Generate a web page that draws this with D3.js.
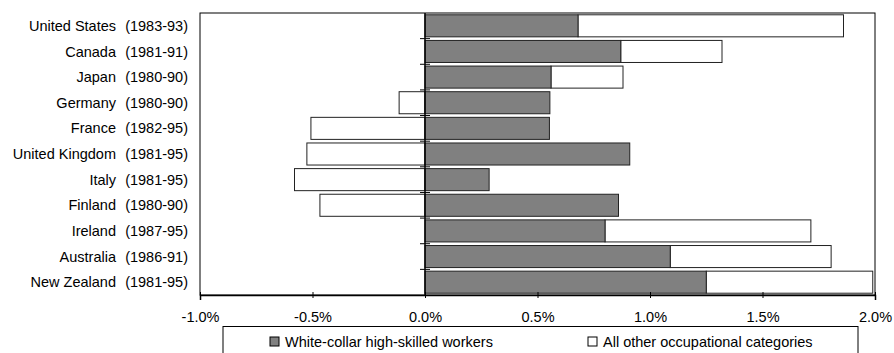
<!DOCTYPE html>
<html>
<head>
<meta charset="utf-8">
<script src="https://cdn.jsdelivr.net/npm/d3@7"></script>
<style>
  body { margin:0; background:#fff; }
  svg { display:block; font-family:"Liberation Sans", Arial, sans-serif; }
</style>
</head>
<body>
<svg></svg>
<script>
var countries = ["United States","Canada","Japan","Germany","France","United Kingdom",
                 "Italy","Finland","Ireland","Australia","New Zealand"];
var periods = ["(1983-93)","(1981-91)","(1980-90)","(1980-90)","(1982-95)","(1981-95)",
               "(1981-95)","(1980-90)","(1987-95)","(1986-91)","(1981-95)"];
var whiteCollar = [0.68,0.87,0.56,0.555,0.553,0.91,0.285,0.86,0.80,1.09,1.25];
var allOther = [1.18,0.45,0.32,-0.115,-0.507,-0.525,-0.58,-0.467,0.915,0.715,0.74];
var xTicks = [-1.0,-0.5,0.0,0.5,1.0,1.5,2.0];
var seriesNames = ["White-collar high-skilled workers","All other occupational categories"];

var screen = {width:894, height:353};
var margins = {top:13, left:200, right:19, bottom:58};
var width = screen.width - margins.left - margins.right;
var height = screen.height - margins.top - margins.bottom;
var fontSize = "14.5px";

var svg = d3.select("svg")
  .attr("width",screen.width)
  .attr("height",screen.height);

var rows = countries.map(function(c,i)
{
  return {country:c, period:periods[i], wc:whiteCollar[i], other:allOther[i]};
});

var xScale = d3.scaleLinear().domain([-1,2]).range([0,width]);
var yScale = d3.scaleBand().domain(countries).range([0,height])
  .paddingInner(0.14).paddingOuter(0.07);

var colors = {wc:"#808080", other:"#ffffff"};

var plot = svg.append("g")
  .attr("transform","translate("+margins.left+","+margins.top+")");

// frame
plot.append("rect")
  .attr("x",0).attr("y",0)
  .attr("width",width).attr("height",height)
  .attr("fill","none").attr("stroke","#000").attr("stroke-width",1);

// other bars: stacked after white collar when positive, from zero when negative
plot.selectAll(".other")
  .data(rows)
  .enter()
  .append("rect")
  .attr("class","other")
  .attr("x",function(d){ return d.other>=0 ? xScale(d.wc) : xScale(d.other); })
  .attr("y",function(d){ return yScale(d.country); })
  .attr("width",function(d){ return Math.abs(xScale(d.other)-xScale(0)); })
  .attr("height",yScale.bandwidth())
  .attr("fill",colors.other)
  .attr("stroke","#222")
  .attr("stroke-width",1);

plot.selectAll(".wc")
  .data(rows)
  .enter()
  .append("rect")
  .attr("class","wc")
  .attr("x",xScale(0))
  .attr("y",function(d){ return yScale(d.country); })
  .attr("width",function(d){ return xScale(d.wc)-xScale(0); })
  .attr("height",yScale.bandwidth())
  .attr("fill",colors.wc)
  .attr("stroke","#222")
  .attr("stroke-width",1);

// zero line with category ticks
plot.append("line")
  .attr("x1",xScale(0)).attr("x2",xScale(0))
  .attr("y1",0).attr("y2",height)
  .attr("stroke","#000").attr("stroke-width",1.5);

var step = yScale.step();
plot.selectAll(".ctick")
  .data(d3.range(1,countries.length))
  .enter()
  .append("line")
  .attr("x1",xScale(0)-5).attr("x2",xScale(0)+5)
  .attr("y1",function(d){ return yScale(countries[d]) - step*yScale.paddingInner()/2; })
  .attr("y2",function(d){ return yScale(countries[d]) - step*yScale.paddingInner()/2; })
  .attr("stroke","#000");

// x axis
var xAxis = d3.axisBottom(xScale)
  .tickValues(xTicks)
  .tickSize(5)
  .tickFormat(function(d){ return d3.format(".1f")(d).replace("\u2212","-")+"%"; });

var axisG = plot.append("g")
  .attr("transform","translate(0,"+height+")")
  .call(xAxis);
axisG.select(".domain").attr("stroke","#000").attr("stroke-width",1.5);
axisG.selectAll(".tick line").attr("stroke","#000").attr("y1",-3).attr("y2",3);
axisG.selectAll(".tick text")
  .attr("y",17)
  .attr("dy","0.71em")
  .attr("font-size",fontSize)
  .attr("font-family","Liberation Sans, Arial, sans-serif")
  .attr("fill","#000");

// category labels
var labels = svg.append("g")
  .attr("font-size",fontSize)
  .attr("fill","#000");

labels.selectAll(".cname")
  .data(rows)
  .enter()
  .append("text")
  .attr("x",116)
  .attr("y",function(d){ return margins.top + yScale(d.country) + yScale.bandwidth()/2; })
  .attr("dy","0.35em")
  .attr("text-anchor","end")
  .text(function(d){ return d.country; });

labels.selectAll(".cper")
  .data(rows)
  .enter()
  .append("text")
  .attr("x",188)
  .attr("y",function(d){ return margins.top + yScale(d.country) + yScale.bandwidth()/2; })
  .attr("dy","0.35em")
  .attr("text-anchor","end")
  .text(function(d){ return d.period; });

// legend
var legend = svg.append("g");
legend.append("rect")
  .attr("x",223).attr("y",326.5)
  .attr("width",635).attr("height",40)
  .attr("fill","#fff").attr("stroke","#000");

var legendItems = legend.selectAll(".item")
  .data([{name:seriesNames[0], color:colors.wc, x:270},
         {name:seriesNames[1], color:colors.other, x:588}])
  .enter()
  .append("g")
  .attr("transform",function(d){ return "translate("+d.x+",337)"; });

legendItems.append("rect")
  .attr("x",0).attr("y",0)
  .attr("width",9).attr("height",9)
  .attr("fill",function(d){ return d.color; })
  .attr("stroke","#000");

legendItems.append("text")
  .attr("x",15).attr("y",5)
  .attr("dy","0.35em")
  .attr("font-size",fontSize)
  .text(function(d){ return d.name; });
</script>
</body>
</html>
